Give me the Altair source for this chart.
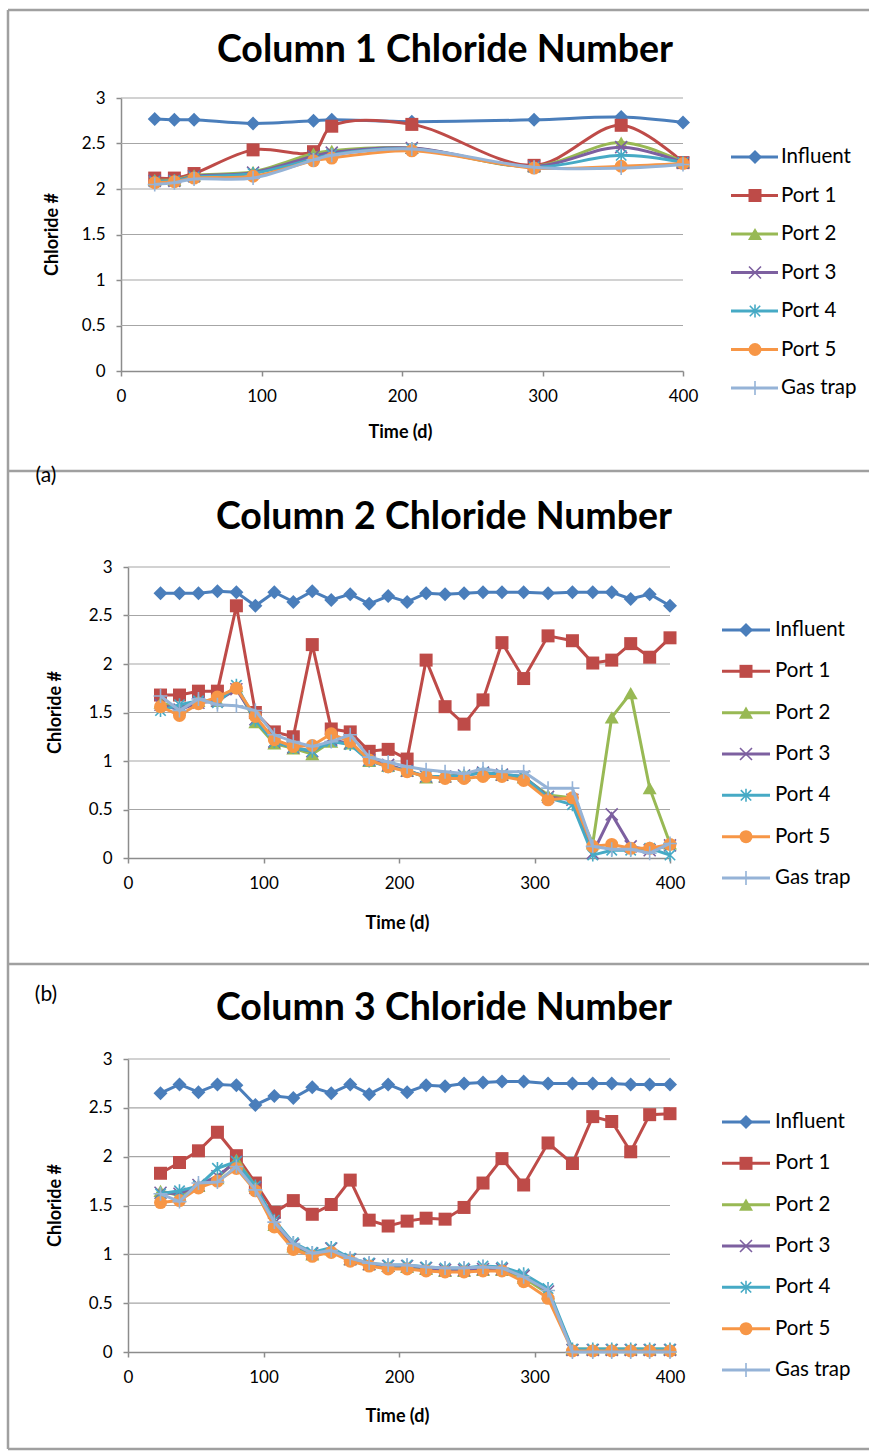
import altair as alt
import pandas as pd

# ---------------- data ----------------
series_names = ["Influent", "Port 1", "Port 2", "Port 3", "Port 4", "Port 5", "Gas trap"]
series_colors = ["#4A7EBB", "#BE4B48", "#98B954", "#7D60A0", "#46AAC5", "#F79646", "#95B3D7"]
x_ticks = [0, 100, 200, 300, 400]
y_ticks = [0, 0.5, 1, 1.5, 2, 2.5, 3]
grid_values = [0.5, 1, 1.5, 2, 2.5, 3]

# Column 1
c1_time = [24, 38, 52, 94, 137, 150, 207, 294, 356, 400]
c1_influent = [2.77, 2.76, 2.76, 2.72, 2.75, 2.76, 2.74, 2.76, 2.79, 2.73]
c1_port1 = [2.12, 2.12, 2.17, 2.43, 2.41, 2.69, 2.71, 2.26, 2.70, 2.29]
c1_port2 = [2.10, 2.10, 2.15, 2.19, 2.39, 2.42, 2.45, 2.25, 2.51, 2.30]
c1_port3 = [2.09, 2.09, 2.14, 2.18, 2.36, 2.40, 2.45, 2.25, 2.46, 2.29]
c1_port4 = [2.08, 2.09, 2.13, 2.17, 2.33, 2.38, 2.44, 2.24, 2.37, 2.29]
c1_port5 = [2.07, 2.08, 2.12, 2.14, 2.31, 2.34, 2.42, 2.23, 2.25, 2.28]
c1_gastrap = [2.05, 2.07, 2.11, 2.12, 2.32, 2.37, 2.44, 2.24, 2.23, 2.27]

# Column 2
c2_time = [24, 38, 52, 66, 80, 94, 108, 122, 136, 150, 164, 178, 192, 206,
           220, 234, 248, 262, 276, 292, 310, 328, 343, 357, 371, 385, 400]
c2_influent = [2.73, 2.73, 2.73, 2.75, 2.74, 2.60, 2.74, 2.64, 2.75, 2.66, 2.72, 2.62, 2.70, 2.64,
               2.73, 2.72, 2.73, 2.74, 2.74, 2.74, 2.73, 2.74, 2.74, 2.74, 2.67, 2.72, 2.60]
c2_port1 = [1.68, 1.68, 1.72, 1.72, 2.60, 1.50, 1.30, 1.25, 2.20, 1.33, 1.30, 1.10, 1.12, 1.02,
            2.04, 1.56, 1.38, 1.63, 2.22, 1.85, 2.29, 2.24, 2.01, 2.04, 2.21, 2.07, 2.27]
c2_port2 = [1.60, 1.55, 1.62, 1.62, 1.77, 1.40, 1.18, 1.13, 1.07, 1.20, 1.18, 1.00, 0.95, 0.90,
            0.83, 0.84, 0.86, 0.88, 0.86, 0.83, 0.65, 0.62, 0.15, 1.45, 1.70, 0.72, 0.15]
c2_port3 = [1.58, 1.53, 1.60, 1.62, 1.74, 1.43, 1.20, 1.14, 1.10, 1.22, 1.18, 1.01, 0.96, 0.90,
            0.84, 0.84, 0.85, 0.88, 0.86, 0.84, 0.63, 0.60, 0.05, 0.45, 0.12, 0.08, 0.13]
c2_port4 = [1.52, 1.58, 1.62, 1.60, 1.78, 1.42, 1.20, 1.14, 1.10, 1.20, 1.17, 1.00, 0.94, 0.90,
            0.84, 0.84, 0.85, 0.88, 0.86, 0.84, 0.62, 0.55, 0.03, 0.08, 0.08, 0.10, 0.03]
c2_port5 = [1.56, 1.47, 1.59, 1.66, 1.75, 1.46, 1.22, 1.15, 1.16, 1.28, 1.20, 1.01, 0.94, 0.89,
            0.84, 0.82, 0.82, 0.84, 0.84, 0.80, 0.60, 0.62, 0.12, 0.14, 0.10, 0.10, 0.14]
c2_gastrap = [1.67, 1.52, 1.64, 1.58, 1.57, 1.52, 1.27, 1.20, 1.15, 1.20, 1.27, 1.04, 0.99, 0.94,
              0.91, 0.89, 0.87, 0.92, 0.89, 0.89, 0.72, 0.72, 0.12, 0.09, 0.09, 0.05, 0.15]

# Column 3
c3_time = [24, 38, 52, 66, 80, 94, 108, 122, 136, 150, 164, 178, 192, 206,
           220, 234, 248, 262, 276, 292, 310, 328, 343, 357, 371, 385, 400]
c3_influent = [2.65, 2.74, 2.66, 2.74, 2.73, 2.53, 2.62, 2.60, 2.71, 2.65, 2.74, 2.64, 2.74, 2.66,
               2.73, 2.72, 2.75, 2.76, 2.77, 2.77, 2.75, 2.75, 2.75, 2.75, 2.74, 2.74, 2.74]
c3_port1 = [1.83, 1.94, 2.06, 2.25, 2.01, 1.73, 1.43, 1.55, 1.41, 1.51, 1.76, 1.35, 1.29, 1.34,
            1.37, 1.36, 1.48, 1.73, 1.98, 1.71, 2.14, 1.93, 2.41, 2.36, 2.05, 2.43, 2.44]
c3_port2 = [1.65, 1.60, 1.70, 1.78, 1.97, 1.70, 1.30, 1.08, 1.00, 1.05, 0.95, 0.90, 0.88, 0.87,
            0.85, 0.83, 0.83, 0.84, 0.84, 0.76, 0.60, 0.03, 0.03, 0.03, 0.03, 0.03, 0.03]
c3_port3 = [1.63, 1.62, 1.71, 1.80, 1.95, 1.68, 1.32, 1.10, 1.01, 1.06, 0.95, 0.90, 0.88, 0.88,
            0.86, 0.84, 0.84, 0.85, 0.85, 0.78, 0.62, 0.02, 0.02, 0.02, 0.02, 0.02, 0.02]
c3_port4 = [1.62, 1.65, 1.70, 1.88, 1.95, 1.70, 1.35, 1.12, 1.02, 1.07, 0.96, 0.91, 0.89, 0.89,
            0.87, 0.86, 0.86, 0.88, 0.87, 0.80, 0.65, 0.03, 0.03, 0.03, 0.03, 0.03, 0.03]
c3_port5 = [1.53, 1.55, 1.68, 1.75, 1.88, 1.65, 1.28, 1.05, 0.98, 1.02, 0.93, 0.88, 0.85, 0.85,
            0.83, 0.82, 0.82, 0.83, 0.83, 0.72, 0.55, 0.01, 0.01, 0.01, 0.01, 0.01, 0.01]
c3_gastrap = [1.62, 1.54, 1.73, 1.74, 1.90, 1.66, 1.33, 1.11, 1.01, 1.04, 0.96, 0.91, 0.89, 0.89,
              0.87, 0.86, 0.86, 0.87, 0.86, 0.77, 0.63, 0.00, 0.00, 0.00, 0.00, 0.00, 0.00]

# ---------------- styles ----------------
X_PATH = "M-1,-1L1,1M-1,1L1,-1"
STAR_PATH = "M-0.8,-0.8L0.8,0.8M-0.8,0.8L0.8,-0.8M0,-1L0,1"
PLUS_PATH = "M-1,0L1,0M0,-1L0,1"
marker_shapes = ["diamond", "square", "triangle-up", X_PATH, STAR_PATH, "circle", PLUS_PATH]
marker_sizes = [196, 169, 196, 144, 169, 169, 196]
marker_filled = [True, True, True, False, False, True, False]
FONT = "Lato"
BORDER = "#A0A0A0"


def long_df(time, cols):
    rows = []
    for name, vals in zip(series_names, cols):
        for t, v in zip(time, vals):
            rows.append({"time": t, "value": v, "series": name})
    return pd.DataFrame(rows)


color_enc = alt.Color("series:N", scale=alt.Scale(domain=series_names, range=series_colors), legend=None)


def make_panel(time, cols, cfg):
    df = long_df(time, cols)
    xs = alt.Scale(domain=[0, 400], range=cfg["xrange"], nice=False, zero=False)
    ys = alt.Scale(domain=[0, 3], range=cfg["yrange"], nice=False, zero=False)
    x_enc = alt.X("time:Q", scale=xs,
                  axis=alt.Axis(values=x_ticks, title="Time (d)", titleX=cfg["xt"][0], titleY=cfg["xt"][1],
                                titleAlign="center", titleBaseline="middle", labelPadding=12,
                                labelFlush=False))
    y_enc = alt.Y("value:Q", scale=ys,
                  axis=alt.Axis(values=y_ticks, format="~g", title="Chloride #", titleAngle=270,
                                titleX=cfg["yt"][0], titleY=cfg["yt"][1], titleAlign="center",
                                titleBaseline="middle", offset=cfg["yoff"], labelPadding=11,
                                labelFlush=False))

    layers = [alt.Chart(pd.DataFrame({"value": grid_values})).mark_rule(color="#A6A6A6", strokeWidth=1.2)
              .encode(y=y_enc, x=alt.value(cfg["grid"][0]), x2=alt.value(cfg["grid"][1]))]
    for i, s in enumerate(series_names):
        base = alt.Chart(df).transform_filter(alt.datum.series == s)
        layers.append(base.mark_line(interpolate=cfg["interp"], strokeWidth=3)
                      .encode(x=x_enc, y=y_enc, color=color_enc))
        layers.append(base.mark_point(shape=marker_shapes[i], size=marker_sizes[i], filled=marker_filled[i],
                                      strokeWidth=1.6, opacity=1)
                      .encode(x=x_enc, y=y_enc, color=color_enc))
    data_layer = alt.layer(*layers)

    # legend drawn from the series list through a point scale
    leg_df = pd.DataFrame({"series": series_names})
    ly = alt.Y("series:N", scale=alt.Scale(type="point", domain=series_names, range=cfg["leg_y"], padding=0),
               axis=None)
    lx0, lx1, mx, tx = cfg["leg_x"]
    leg_layers = [alt.Chart(leg_df).mark_rule(strokeWidth=3)
                  .encode(y=ly, x=alt.value(lx0), x2=alt.value(lx1), color=color_enc)]
    for i, s in enumerate(series_names):
        leg_layers.append(alt.Chart(leg_df).transform_filter(alt.datum.series == s)
                          .mark_point(shape=marker_shapes[i], size=marker_sizes[i], filled=marker_filled[i],
                                      strokeWidth=1.6, opacity=1)
                          .encode(y=ly, x=alt.value(mx), color=color_enc))
    leg_layers.append(alt.Chart(leg_df).mark_text(align="left", baseline="middle", font=FONT, fontSize=20.5,
                                                   color="black")
                      .encode(y=ly, x=alt.value(tx), text="series:N"))
    legend_layer = alt.layer(*leg_layers)

    one = pd.DataFrame({"k": [0]})
    bx, btop, bbot, bright = cfg["border"]
    deco = [
        alt.Chart(one).mark_rule(color=BORDER, strokeWidth=2.5)
        .encode(x=alt.value(bx), y=alt.value(btop), y2=alt.value(bbot)),
        alt.Chart(one).mark_rule(color=BORDER, strokeWidth=2.5)
        .encode(x=alt.value(bx), x2=alt.value(bright), y=alt.value(btop)),
        alt.Chart(one).mark_text(text=cfg["title"], font=FONT, fontWeight="bold", fontSize=37.5,
                                 align="center", baseline="middle", color="black")
        .encode(x=alt.value(cfg["title_xy"][0]), y=alt.value(cfg["title_xy"][1])),
    ]
    if cfg.get("bottom") is not None:
        deco.append(alt.Chart(one).mark_rule(color=BORDER, strokeWidth=2.5)
                    .encode(x=alt.value(bx), x2=alt.value(bright), y=alt.value(cfg["bottom"])))
    if cfg.get("tag"):
        deco.append(alt.Chart(one).mark_text(text=cfg["tag"], font=FONT, fontSize=21, align="center",
                                             baseline="middle", color="black")
                    .encode(x=alt.value(cfg["tag_xy"][0]), y=alt.value(cfg["tag_xy"][1])))
    if cfg.get("anchor"):
        deco.append(alt.Chart(one).mark_rule(opacity=0)
                    .encode(x=alt.value(cfg["anchor"][0]), y=alt.value(cfg["anchor"][1]),
                            y2=alt.value(cfg["anchor"][1] + 1)))

    return (alt.layer(data_layer, legend_layer, *deco)
            .resolve_scale(y="independent")
            .properties(width=cfg["w"], height=cfg["h"]))


p1 = make_panel(c1_time, [c1_influent, c1_port1, c1_port2, c1_port3, c1_port4, c1_port5, c1_gastrap], dict(
    w=562, h=273, xrange=[0, 562], yrange=[273, 0], yoff=0, interp="catmull-rom",
    xt=(279, 61), yt=(-69, 136), grid=(0, 562),
    leg_y=[59, 290], leg_x=(610, 657, 634, 660),
    border=(-113, -88, 373, 748), title="Column 1 Chloride Number", title_xy=(324, -47),
    anchor=(-121, -98)))

p2 = make_panel(c2_time, [c2_influent, c2_port1, c2_port2, c2_port3, c2_port4, c2_port5, c2_gastrap], dict(
    w=549, h=291, xrange=[7, 549], yrange=[291, 0], yoff=-7, interp="linear",
    xt=(276, 65), yt=(-73, 145), grid=(7, 549),
    leg_y=[63, 311], leg_x=(601, 649, 625, 654),
    border=(-113, -96, 397, 748), title="Column 2 Chloride Number", title_xy=(323, -49),
    tag="(a)", tag_xy=(-75, -91)))

p3 = make_panel(c3_time, [c3_influent, c3_port1, c3_port2, c3_port3, c3_port4, c3_port5, c3_gastrap], dict(
    w=549, h=298, xrange=[7, 549], yrange=[298, 5], yoff=-7, interp="linear",
    xt=(276, 64), yt=(-73, 151), grid=(7, 549),
    leg_y=[68, 316], leg_x=(601, 649, 625, 654),
    border=(-113, -90, 395, 748), bottom=395, title="Column 3 Chloride Number", title_xy=(323, -45),
    tag="(b)", tag_xy=(-75, -59)))

chart = (alt.vconcat(p1, p2, p3, spacing=196, bounds="flush")
         .properties(padding=0, background="white")
         .configure_view(stroke=None)
         .configure_axis(labelFont=FONT, labelFontSize=17, labelColor="black",
                         titleFont=FONT, titleFontSize=18, titleFontWeight="bold", titleColor="black",
                         domainColor="#8C8C8C", domainWidth=1.5, tickColor="#8C8C8C", tickWidth=1.5,
                         tickSize=5, grid=False))

chart.save("out.html", embed_options={"renderer": "svg", "actions": False})
